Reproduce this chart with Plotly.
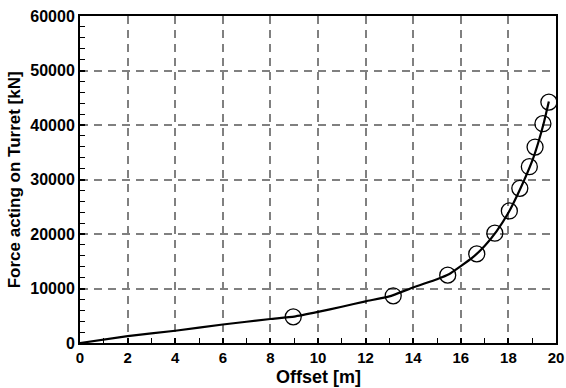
import plotly.graph_objects as go

# Computed turret force curve
curve_offset = [0, 2, 4, 6, 8, 9, 10, 11, 12, 13, 14, 15, 15.5, 16, 16.5, 17, 17.5, 18, 18.5, 19, 19.25, 19.5, 19.7]
curve_force = [0, 1250, 2250, 3400, 4400, 4850, 5700, 6650, 7650, 8550, 10200, 11700, 12600, 14100, 15700, 17800,
               20500, 23900, 28300, 33400, 36700, 40600, 44300]

# Sampled positions (circles)
point_offset = [8.96, 13.16, 15.45, 16.67, 17.43, 18.04, 18.48, 18.88, 19.12, 19.45, 19.70]
point_force = [4800, 8660, 12450, 16350, 20150, 24230, 28380, 32350, 35950, 40240, 44200]

x_ticks = [0, 2, 4, 6, 8, 10, 12, 14, 16, 18, 20]
y_ticks = [0, 10000, 20000, 30000, 40000, 50000, 60000]

font_family = "Liberation Sans, Arial, sans-serif"

fig = go.Figure()
fig.add_trace(go.Scatter(
    x=curve_offset, y=curve_force, mode="lines",
    line=dict(color="black", width=2.2, shape="spline", smoothing=0.4),
    showlegend=False, hoverinfo="skip",
))
fig.add_trace(go.Scatter(
    x=point_offset, y=point_force, mode="markers",
    marker=dict(symbol="circle-open", size=16, color="black", line=dict(width=1.3, color="black")),
    showlegend=False,
))

axis_common = dict(
    showline=True, linecolor="black", linewidth=2, mirror=True,
    showgrid=True, gridcolor="#808080", gridwidth=1.5, griddash="8px,6px",
    zeroline=False, automargin=False,
    ticks="inside", ticklen=5, tickwidth=1.5, tickcolor="black",
)

fig.update_xaxes(
    range=[0, 20], tickvals=x_ticks, ticktext=[f"<b>{v}</b>" for v in x_ticks],
    tickfont=dict(family=font_family, size=15, color="black"),
    minor=dict(ticks="inside", dtick=1, ticklen=5, tickwidth=1.3, tickcolor="black", showgrid=False),
    **axis_common,
)
fig.update_yaxes(
    range=[0, 60000], tickvals=y_ticks, ticktext=[f"<b>{v}</b>" for v in y_ticks],
    tickfont=dict(family=font_family, size=16, color="black"),
    minor=dict(ticks="inside", dtick=2000, ticklen=5, tickwidth=1.3, tickcolor="black", showgrid=False),
    **axis_common,
)

fig.update_layout(
    width=566, height=388,
    margin=dict(l=80, r=10, t=16, b=45),
    paper_bgcolor="white", plot_bgcolor="white",
    annotations=[
        dict(text="<b>Offset [m]</b>", xref="paper", yref="paper", x=0.5, y=-0.1376,
             xanchor="center", yanchor="bottom", showarrow=False, borderpad=0,
             font=dict(family=font_family, size=18, color="black")),
        dict(text="<b>Force acting on Turret [kN]</b>", xref="paper", yref="paper", x=-0.137, y=0.5,
             xanchor="center", yanchor="middle", textangle=-90, showarrow=False,
             font=dict(family=font_family, size=17, color="black")),
    ],
)

fig.write_html("out.html")
